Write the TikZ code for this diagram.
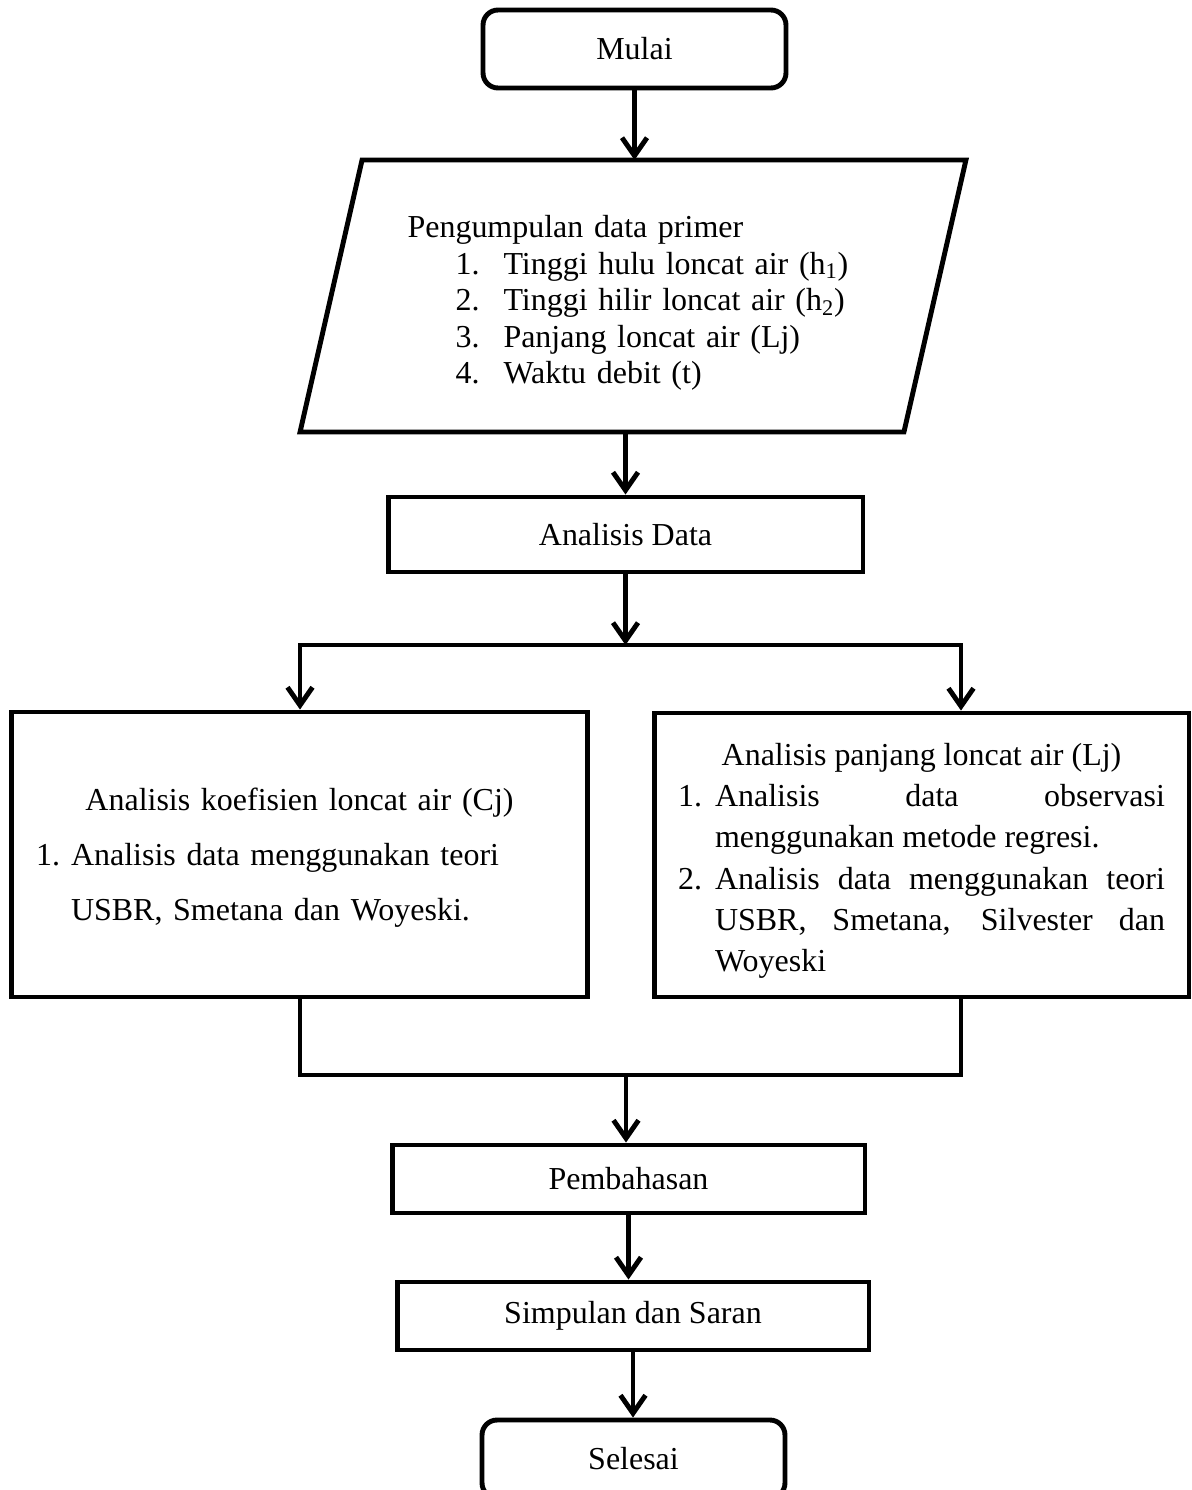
\documentclass[tikz,border=0pt]{standalone}
\usepackage{fontspec}
\setmainfont{Liberation Serif}
\usetikzlibrary{arrows.meta}
\setlength{\parindent}{0pt}
\hyphenpenalty=10000
\tolerance=10000
\hbadness=10000

\begin{document}
\begin{tikzpicture}[x=0.02cm, y=-0.02cm, line width=2.8pt,
    font=\fontsize{18.2}{21}\selectfont,
    box/.style={draw, rectangle, inner sep=0pt},
    terminal/.style={draw, rounded corners=0.3cm, inner sep=0pt,
      minimum width=6.06cm, minimum height=1.56cm},
    flow/.style={-{Straight Barb[length=0.36cm,width=0.5cm]}}]

    \useasboundingbox (0,0) rectangle (1192,1490);

    % Start
    \node[terminal] (mulai) at (634.5,49) {Mulai};

    % Input data: body of the parallelogram, slanted sides drawn below
    \node[rectangle, inner sep=0pt, outer sep=0pt, minimum width=12.08cm,
      minimum height=5.44cm, text width=9.02cm, align=left,
      font=\fontsize{18.2}{20.8}\selectfont] (primer) at (633,296)
      {\rule{0pt}{0.72cm}Pengumpulan data primer\\
       \hspace*{0.96cm}\makebox[0.96cm][l]{1.}Tinggi hulu loncat air (h\textsubscript{1})\\
       \hspace*{0.96cm}\makebox[0.96cm][l]{2.}Tinggi hilir loncat air (h\textsubscript{2})\\
       \hspace*{0.96cm}\makebox[0.96cm][l]{3.}Panjang loncat air (Lj)\\
       \hspace*{0.96cm}\makebox[0.96cm][l]{4.}Waktu debit (t)};
    \draw ([xshift=-0.62cm]primer.south west) -- ([xshift=0.62cm]primer.north west)
      -- ([xshift=0.62cm]primer.north east) -- ([xshift=-0.62cm]primer.south east) -- cycle;

    \node[box, minimum width=9.5cm, minimum height=1.5cm] (data) at (625.5,534.5) {Analisis Data};

    % Two analyses
    \node[box, minimum width=11.54cm, minimum height=5.7cm, text width=10.54cm,
      inner xsep=0.5cm, align=left, font=\fontsize{18.2}{31.3}\selectfont] (cj) at (299.5,854.5)
      {{\centering\rule{0pt}{0.56cm}Analisis koefisien loncat air (Cj)\par}
       \makebox[0.7cm][l]{1.}Analisis data menggunakan teori\\
       \hspace*{0.7cm}USBR, Smetana dan Woyeski.};

    \node[box, minimum width=10.7cm, minimum height=5.68cm, text width=9.74cm,
      inner xsep=0.48cm, align=justify, font=\fontsize{18.2}{23.4}\selectfont] (lj) at (921.5,855)
      {{\centering\rule{0pt}{0.68cm}Analisis panjang loncat air (Lj)\par}
       \hangindent=0.74cm\hangafter=1\makebox[0.74cm][l]{1.}Analisis data observasi menggunakan metode regresi.\par
       \hangindent=0.74cm\hangafter=1\makebox[0.74cm][l]{2.}Analisis data menggunakan teori USBR, Smetana, Silvester dan Woyeski\par};

    \node[box, minimum width=9.46cm, minimum height=1.36cm] (bahas) at (628.5,1179) {Pembahasan};
    \node[box, minimum width=9.44cm, minimum height=1.36cm] (simpul) at (633,1316) {Simpulan dan Saran};

    % End
    \node[terminal] (selesai) at (633.5,1459) {Selesai};

    % Branch and join points
    \coordinate (splitL) at (300,645);
    \coordinate (splitR) at (961,645);
    \coordinate (joinL) at (300,1075);
    \coordinate (joinR) at (961,1075);
    \coordinate (joinM) at (626,1075);

    % Arrows
    \draw[flow] (mulai.south) -- (mulai.south |- primer.north);
    \draw[flow] (primer.south -| data) -- (data.north);
    \draw[flow] (data.south) -- (data.south |- splitL);
    \draw[flow] (splitR) -- (splitL) -- (splitL |- cj.north);
    \draw[flow] (splitL) -- (splitR) -- (splitR |- lj.north);
    \draw (cj.south -| joinL) -- (joinL) -- (joinR) -- (lj.south -| joinR);
    \draw[flow] (joinM) -- (joinM |- bahas.north);
    \draw[flow] (bahas.south) -- (bahas.south |- simpul.north);
    \draw[flow] (simpul.south) -- (simpul.south |- selesai.north);

\end{tikzpicture}
\end{document}
